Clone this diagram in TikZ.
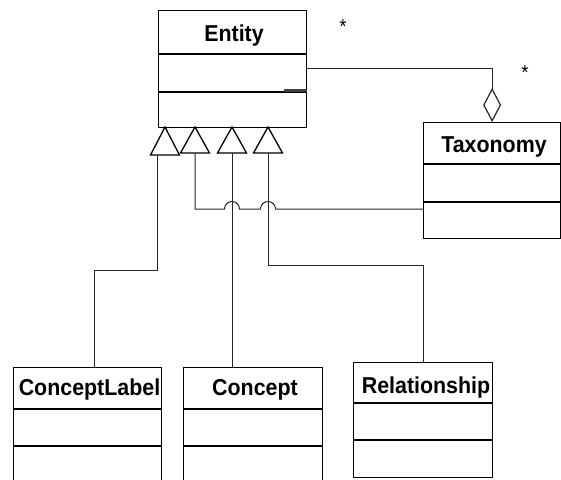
\documentclass[tikz,border=0pt]{standalone}
\usepackage{fontspec}
\setmainfont{Liberation Sans}[FakeStretch=0.93]
\usetikzlibrary{arrows.meta}
\begin{document}
\begin{tikzpicture}[x=1pt,y=-1pt,
  umlbox/.style={draw,line width=1.3pt,rectangle,inner sep=0pt,anchor=north west},
  classname/.style={font=\fontsize{23}{26}\selectfont\bfseries,inner sep=0pt,anchor=base},
  sepline/.style={line width=1.3pt},
  link/.style={line width=1pt,black!85},
  gentri/.style={line width=1.3pt,fill=white,line join=miter},
  mult/.style={font=\fontsize{20}{22}\selectfont,inner sep=0pt}]
\useasboundingbox (0,0) rectangle (561,479);
\clip (0,0) rectangle (561,479);

% class boxes
\node[umlbox,minimum width=148pt,minimum height=117pt] (entity) at (158,10) {};
\node[umlbox,minimum width=137pt,minimum height=116pt] (taxonomy) at (423,122) {};
\node[umlbox,minimum width=148pt,minimum height=130pt] (conceptlabel) at (13,367) {};
\node[umlbox,minimum width=139pt,minimum height=130pt] (concept) at (183,367) {};
\node[umlbox,minimum width=139pt,minimum height=115pt] (relationship) at (353,362) {};

% compartments
\draw[sepline,line width=2.6pt] (entity.west |- 0,54) -- (entity.east |- 0,54);
\draw[sepline] (entity.west |- 0,92) -- (entity.east |- 0,92);
\draw[line width=2.8pt,black!75] (284,90.5) -- (entity.east |- 0,90.5);
\draw[sepline] (taxonomy.west |- 0,164) -- (taxonomy.east |- 0,164);
\draw[sepline] (taxonomy.west |- 0,202) -- (taxonomy.east |- 0,202);
\draw[sepline] (conceptlabel.west |- 0,409) -- (conceptlabel.east |- 0,409);
\draw[sepline] (conceptlabel.west |- 0,446) -- (conceptlabel.east |- 0,446);
\draw[sepline] (concept.west |- 0,409) -- (concept.east |- 0,409);
\draw[sepline] (concept.west |- 0,446) -- (concept.east |- 0,446);
\draw[sepline] (relationship.west |- 0,403) -- (relationship.east |- 0,403);
\draw[sepline] (relationship.west |- 0,440) -- (relationship.east |- 0,440);

% class names
\node[classname] (entityname) at (234,41) {Entity};
\node[classname] (taxonomyname) at (494,152) {Taxonomy};
\node[classname] (conceptlabelname) at (89.5,395) {ConceptLabel};
\node[classname] (conceptname) at (255,395) {Concept};
\node[classname] (relationshipname) at (426,393) {Relationship};

% multiplicities
\node[mult] (multa) at (343,27) {*};
\node[mult] (multb) at (525,73) {*};

% generalization triangles below Entity
\coordinate (apexa) at (165,127);
\coordinate (apexb) at (195,127);
\coordinate (apexc) at (232,127);
\coordinate (apexd) at (268,127);
\draw[gentri] (apexa) -- ++(-14.5,28) -- ++(29,0) -- cycle;
\draw[gentri] (apexb) -- ++(-14.5,26) -- ++(29,0) -- cycle;
\draw[gentri] (apexc) -- ++(-14.5,26) -- ++(29,0) -- cycle;
\draw[gentri] (apexd) -- ++(-14.5,26) -- ++(29,0) -- cycle;
\coordinate (basea) at (157,155);
\coordinate (baseb) at (195,153);
\coordinate (basec) at (232,153);
\coordinate (based) at (268,153);

% inheritance connectors
\draw[link] (basea) -- (157,270) -- (94,270) -- (conceptlabel.north -| 94,0);
\draw[link] (basec) -- (concept.north -| basec);
\draw[link] (based) -- (268,265) -- (423,265) -- (relationship.north -| 423,0);
\draw[link] (baseb) -- (195,209) -- (224.5,209) arc[start angle=180,end angle=0,radius=7.5pt]
  -- (260.5,209) arc[start angle=180,end angle=0,radius=7.5pt] -- (taxonomy.west |- 0,209);

% aggregation Taxonomy -> Entity
\draw[link,-{Diamond[open,length=34pt,width=18pt,line width=1.2pt]}]
  (entity.east |- 0,68) -| (taxonomy.north);
\end{tikzpicture}
\end{document}
